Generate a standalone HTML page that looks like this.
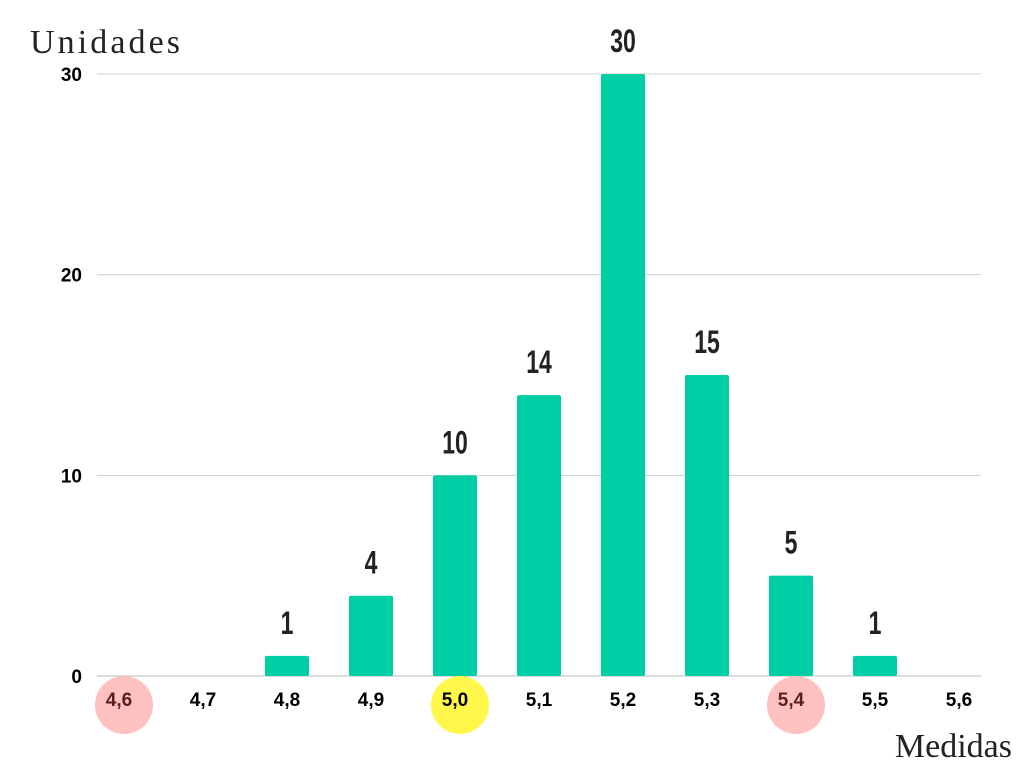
<!DOCTYPE html>
<html><head><meta charset="utf-8"><style>
html,body{margin:0;padding:0;background:#fff;}
svg{display:block;}
.tick{font-family:"Liberation Sans",sans-serif;font-weight:bold;font-size:19px;fill:#000;}
.val{font-family:"Liberation Sans Narrow","Liberation Sans",sans-serif;font-weight:bold;font-size:32px;fill:#222;}
.title{font-family:"Liberation Serif",serif;font-size:34px;fill:#222;}
</style></head><body>
<svg id="chart" width="1024" height="768">
<text class="title" x="30" y="53" textLength="150">Unidades</text>
<text class="title" x="1012" y="757" text-anchor="end">Medidas</text>
<g id="grid"></g><g id="marks"></g><g id="bars"></g><g id="labels"></g>
</svg>
<script>
const categories=["4,6","4,7","4,8","4,9","5,0","5,1","5,2","5,3","5,4","5,5","5,6"];
const values=[0,0,1,4,10,14,30,15,5,1,0];
const yTicks=[0,10,20,30];
const highlights=[["4,6","pink"],["5,0","yellow"],["5,4","pink"]];
const NS="http://www.w3.org/2000/svg";
const y0=676,yScale=(676-74)/30;
const y=v=>y0-v*yScale;
const x=i=>119+i*84;
function mk(t,p,a){const e=document.createElementNS(NS,t);for(const k in a)e.setAttribute(k,a[k]);document.getElementById(p).appendChild(e);return e;}
yTicks.forEach(t=>{
 const l=mk("line","grid",{x1:97,x2:981,y1:y(t),y2:y(t),stroke:t===0?"#bbb":"#d0d0d0","stroke-width":1});
 
 
 const tx=mk("text","grid",{x:82,y:y(t)+7,"text-anchor":"end",class:"tick"});tx.textContent=t;
 
 
});
const hl={};highlights.forEach(h=>hl[h[0]]=h[1]);
categories.forEach((c,i)=>{
 const v=values[i];
 if(v>0){
  const b=mk("rect","bars",{x:x(i)-22,y:y(v),width:44,height:y0-y(v),rx:2,fill:"#00cea5"});
  
  
  const vt=mk("text","bars",{x:0,y:0,"text-anchor":"middle",class:"val",transform:"translate("+x(i)+","+(y(v)-22)+") scale(0.72,1)"});vt.textContent=v;
  
  
 }
 const t=mk("text","labels",{x:x(i),y:706,"text-anchor":"middle",class:"tick",fill:hl[c]==="pink"?"#5a1f1f":(hl[c]==="yellow"?"#1a1a00":"#000")});t.textContent=c;
 t.style.fill=hl[c]==="pink"?"#5a1f1f":"#000";
 
 
});
highlights.forEach(([c,col])=>{
 const i=categories.indexOf(c);
 const m=mk("circle","marks",{cx:x(i)+5,cy:705,r:29,fill:col==="pink"?"#ffc0c0":"#fff74a"});
 
 
});
</script>
</body></html>
